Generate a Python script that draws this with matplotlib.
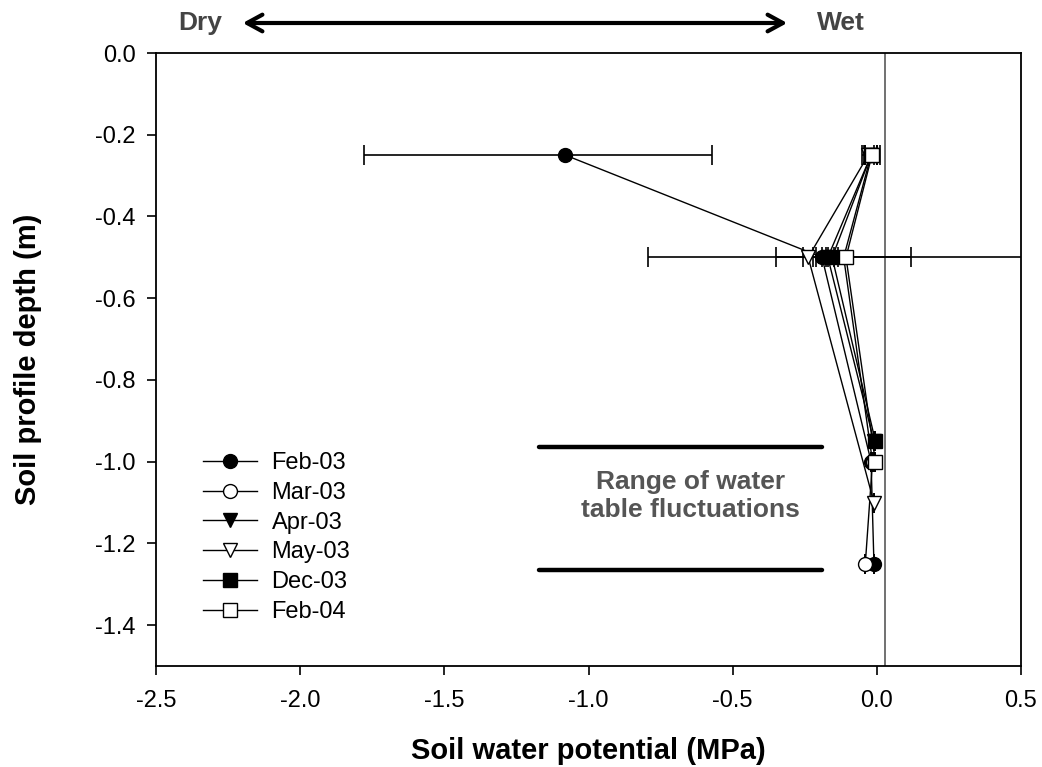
import matplotlib
matplotlib.use("Agg")
import matplotlib.pyplot as plt
from matplotlib.patches import FancyArrowPatch

plt.rcParams['font.family'] = ['Liberation Sans', 'DejaVu Sans']
plt.rcParams['axes.unicode_minus'] = False

# Soil water potential (MPa) by depth (m) for each sampling date,
# with lower / upper error extents
labels = ["Feb-03", "Mar-03", "Apr-03", "May-03", "Dec-03", "Feb-04"]

depth_feb03 = [-0.25, -0.5, -1.0, -1.25]
psi_feb03 = [-1.08, -0.19, -0.02, -0.01]
errlo_feb03 = [0.70, 0.02, 0.0, 0.0]
errhi_feb03 = [0.51, 0.02, 0.0, 0.0]

depth_mar03 = [-0.25, -0.5, -1.0, -1.25]
psi_mar03 = [-0.02, -0.115, -0.015, -0.04]
errlo_mar03 = [0.02, 0.235, 0.0, 0.0]
errhi_mar03 = [0.02, 0.235, 0.0, 0.0]

depth_apr03 = [-0.25, -0.5, -0.95]
psi_apr03 = [-0.02, -0.17, -0.01]
errlo_apr03 = [0.02, 0.02, 0.0]
errhi_apr03 = [0.02, 0.02, 0.0]

depth_may03 = [-0.25, -0.5, -1.1]
psi_may03 = [-0.03, -0.238, -0.01]
errlo_may03 = [0.02, 0.018, 0.0]
errhi_may03 = [0.02, 0.018, 0.0]

depth_dec03 = [-0.25, -0.5, -0.95]
psi_dec03 = [-0.02, -0.155, -0.005]
errlo_dec03 = [0.02, 0.02, 0.0]
errhi_dec03 = [0.02, 0.02, 0.0]

depth_feb04 = [-0.25, -0.5, -1.0]
psi_feb04 = [-0.017, -0.107, -0.005]
errlo_feb04 = [0.028, 0.685, 0.0]
errhi_feb04 = [0.028, 0.685, 0.0]

# Water table range bounds (m) and extent along x
wt_upper = -0.965
wt_lower = -1.265
wt_x = [-1.17, -0.19]

series = [
    (psi_feb03, depth_feb03, errlo_feb03, errhi_feb03, 'o', 'black'),
    (psi_mar03, depth_mar03, errlo_mar03, errhi_mar03, 'o', 'white'),
    (psi_apr03, depth_apr03, errlo_apr03, errhi_apr03, 'v', 'black'),
    (psi_may03, depth_may03, errlo_may03, errhi_may03, 'v', 'white'),
    (psi_dec03, depth_dec03, errlo_dec03, errhi_dec03, 's', 'black'),
    (psi_feb04, depth_feb04, errlo_feb04, errhi_feb04, 's', 'white'),
]

W, H = 1042, 767
fig = plt.figure(figsize=(W / 100, H / 100), dpi=100)
ax = fig.add_axes([156 / W, 1 - 666 / H, 865 / W, 613 / H])

ax.axvline(0.03, color='#666666', lw=1.3, zorder=1)

handles = []
for (x, y, lo, hi, m, fc), lab in zip(series, labels):
    ax.errorbar(x, y, xerr=[lo, hi], fmt='none', ecolor='black',
                elinewidth=1.2, capsize=7, capthick=1.2, zorder=2)
    h, = ax.plot(x, y, color='black', lw=1.0, marker=m, markersize=10,
                 markerfacecolor=fc, markeredgecolor='black',
                 markeredgewidth=1.0, label=lab, zorder=3)
    handles.append(h)

ax.plot(wt_x, [wt_upper, wt_upper], color='black', lw=3.2,
        solid_capstyle='round', zorder=2)
ax.plot(wt_x, [wt_lower, wt_lower], color='black', lw=3.2,
        solid_capstyle='round', zorder=2)
ax.text(-0.645, -1.084, "Range of water\ntable fluctuations", ha='center',
        va='center', fontsize=19, fontweight='bold', color='#555555',
        linespacing=1.25)

ax.set_xlim(-2.5, 0.5)
ax.set_ylim(-1.5, 0.0)
ax.set_xticks([-2.5, -2.0, -1.5, -1.0, -0.5, 0.0, 0.5])
ax.set_yticks([0.0, -0.2, -0.4, -0.6, -0.8, -1.0, -1.2, -1.4])
ax.set_xticklabels([f"{v:.1f}" for v in ax.get_xticks()])
ax.set_yticklabels([f"{v:.1f}" for v in ax.get_yticks()])
ax.tick_params(direction='out', length=6.5, width=1.2, labelsize=17,
               top=False, right=False, pad=8)
ax.tick_params(axis='x', pad=10.5)
for s in ax.spines.values():
    s.set_linewidth(1.3)

ax.set_xlabel("Soil water potential (MPa)", fontsize=21, fontweight='bold')
ax.set_ylabel("Soil profile depth (m)", fontsize=21, fontweight='bold')
ax.xaxis.set_label_coords(0.5, -(737 - 666) / 613)
ax.yaxis.set_label_coords(-(156 - 42) / 865, 0.5)

leg = ax.legend(handles=handles, loc='upper left',
                bbox_to_anchor=((203 - 156) / 865, (666 - 452) / 613),
                frameon=False, fontsize=17, handlelength=2.3,
                handletextpad=0.6, labelspacing=0.33, borderaxespad=0,
                borderpad=0)

# Dry / wet direction indicator above the plot
fig.text(200 / W, 1 - 23 / H, "Dry", ha='center', va='center',
         fontsize=19, fontweight='bold', color='#444444')
fig.text(841 / W, 1 - 23 / H, "Wet", ha='center', va='center',
         fontsize=19, fontweight='bold', color='#444444')
fig.patches.append(FancyArrowPatch(
    (240 / W, 1 - 23 / H), (790 / W, 1 - 23 / H),
    transform=fig.transFigure, arrowstyle='<->,head_length=11,head_width=6',
    color='black', lw=3.0, mutation_scale=1))

fig.savefig("out.png", dpi=100)
